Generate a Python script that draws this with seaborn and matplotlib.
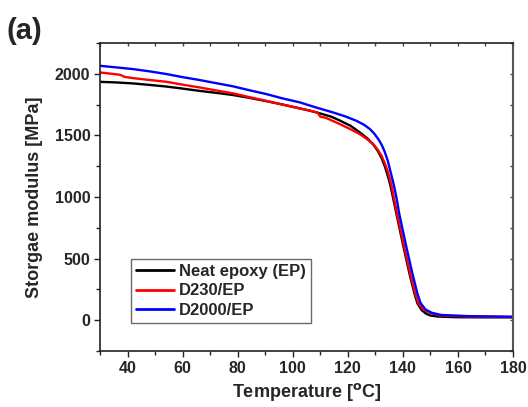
import numpy as np
import pandas as pd
import matplotlib
matplotlib.use("Agg")
import matplotlib.pyplot as plt
from matplotlib.ticker import MultipleLocator
import seaborn as sns

# Storage modulus (MPa) versus temperature (°C) for each formulation
temp_neat = [30, 36, 42, 48, 54, 60, 66, 72, 78, 84, 90, 96, 102, 106, 110, 114,
             117, 121, 124, 127, 129.3, 131, 132.3, 133.5, 134.4, 135.2, 136,
             137.5, 140.2, 142.4, 144.2, 145.3, 146.8, 148.5, 150, 153, 160, 170, 180]
mod_neat = [1935, 1930, 1922, 1910, 1897, 1880, 1862, 1846, 1829, 1806, 1780, 1752,
            1722, 1702, 1678, 1652, 1622, 1578, 1530, 1478, 1425, 1370, 1315, 1245,
            1180, 1118, 1040, 880, 598, 378, 217, 136, 82, 52, 38, 29, 24, 23, 23]

temp_d230 = [30, 33.5, 37.3, 39, 42, 48, 54.2, 60, 66.3, 72, 78.4, 84, 90.5, 96,
             102.6, 106, 109, 110, 112, 117.2, 121, 124.4, 127, 129.3, 131, 132.3,
             133.5, 134.4, 135.3, 136, 137.8, 140.4, 142.6, 144.4, 145.6, 147.4,
             149.9, 153.5, 164, 180]
mod_d230 = [2011, 2002, 1992, 1975, 1965, 1950, 1935, 1912, 1889, 1866, 1841, 1812,
            1780, 1752, 1719, 1702, 1686, 1652, 1643, 1591, 1550, 1510, 1470, 1428,
            1380, 1333, 1270, 1215, 1144, 1080, 873, 602, 385, 223, 141, 87, 60,
            38, 30, 26]

temp_d2000 = [30, 36, 42.1, 48, 54.2, 60, 66.3, 72, 78.4, 84, 90.5, 96, 102.6, 108,
              114.7, 119, 123.2, 126, 128, 129.6, 131.1, 132.4, 133.5, 134.5, 135.3,
              136.8, 137.8, 138.6, 141.2, 143.4, 145.2, 146.4, 148.2, 150.5, 154,
              164, 180]
mod_d2000 = [2065, 2052, 2038, 2020, 1998, 1973, 1949, 1925, 1898, 1868, 1835, 1802,
             1768, 1730, 1686, 1655, 1618, 1585, 1552, 1515, 1469, 1420, 1361, 1295,
             1225, 1090, 981, 873, 602, 385, 223, 141, 87, 60, 42, 33, 28]

series_names = ["Neat epoxy (EP)", "D230/EP", "D2000/EP"]
series_colors = ["#000000", "#ff0000", "#0000ff"]

frames = []
for name, t, m in zip(series_names,
                      [temp_neat, temp_d230, temp_d2000],
                      [mod_neat, mod_d230, mod_d2000]):
    frames.append(pd.DataFrame({"Temperature": t, "Modulus": m, "Sample": name}))
df = pd.concat(frames, ignore_index=True)

sns.set_style("ticks")
plt.rcParams["font.family"] = ["Liberation Sans", "DejaVu Sans"]
plt.rcParams["font.weight"] = "bold"

fig = plt.figure(figsize=(5.28, 4.07), dpi=100)
ax = fig.add_axes([0.1894, 0.1376, 0.7822, 0.7567])

sns.lineplot(data=df, x="Temperature", y="Modulus", hue="Sample",
             hue_order=series_names, palette=series_colors, sort=False,
             estimator=None, linewidth=1.7, ax=ax)
for ln in ax.get_lines():
    ln.set_solid_joinstyle("round")

ax.set_xlim(30, 180)
ax.set_ylim(-250, 2250)
ax.xaxis.set_major_locator(MultipleLocator(20))
ax.xaxis.set_minor_locator(MultipleLocator(10))
ax.yaxis.set_major_locator(MultipleLocator(500))
ax.yaxis.set_minor_locator(MultipleLocator(250))

ax.tick_params(axis="both", which="major", direction="out", length=4, width=1,
               labelsize=11.5, color="#222222", pad=3)
ax.tick_params(axis="both", which="minor", direction="out", length=3, width=1,
               color="#222222")
for lab in ax.get_xticklabels() + ax.get_yticklabels():
    lab.set_fontweight("bold")

# inward ticks on the top and right frame
sec_x = ax.secondary_xaxis("top")
sec_x.xaxis.set_major_locator(MultipleLocator(10))
sec_x.tick_params(direction="in", length=2, width=1, labeltop=False, color="#444444")
sec_x.spines["top"].set_visible(False)
sec_y = ax.secondary_yaxis("right")
sec_y.yaxis.set_major_locator(MultipleLocator(250))
sec_y.tick_params(direction="in", length=2, width=1, labelright=False, color="#444444")
sec_y.spines["right"].set_visible(False)

for side in ["left", "bottom", "top"]:
    ax.spines[side].set_color("#222222")
    ax.spines[side].set_linewidth(1.2)
ax.spines["right"].set_color("#555555")
ax.spines["right"].set_linewidth(1.5)

ax.set_xlabel("Temperature [$\\mathbf{^{o}}$C]", fontsize=13, fontweight="bold", labelpad=4)
ax.set_ylabel("Storgae modulus [MPa]", fontsize=13, fontweight="bold", labelpad=8)

leg = ax.legend(loc="lower left", bbox_to_anchor=(0.075, 0.092), borderaxespad=0,
                frameon=True, fancybox=False, fontsize=12, handlelength=2.3,
                handletextpad=0.3, borderpad=0.3, labelspacing=0.25)
leg.get_frame().set_edgecolor("#444444")
leg.get_frame().set_linewidth(1.0)
for txt in leg.get_texts():
    txt.set_fontweight("bold")
for line in leg.get_lines():
    line.set_linewidth(2)

fig.text(0.013, 0.925, "(a)", fontsize=21, fontweight="bold", ha="left", va="center")

fig.savefig("out.png", dpi=100)
